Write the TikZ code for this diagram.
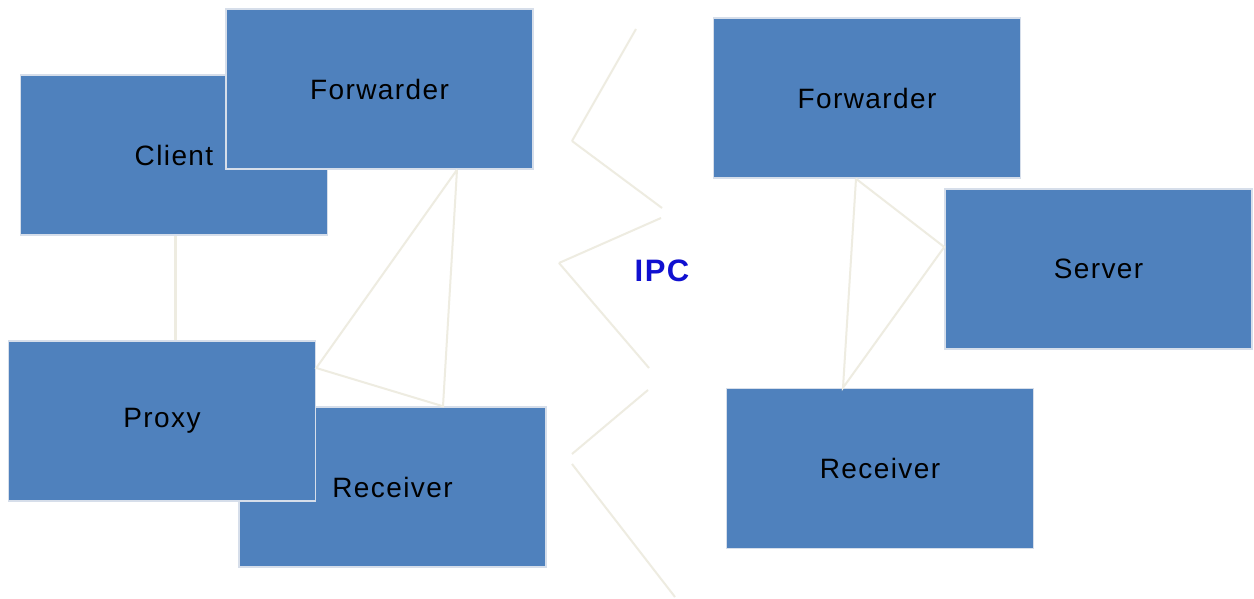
\documentclass[tikz,border=0pt]{standalone}
\usepackage{fontspec}
\setmainfont{Liberation Sans}[LetterSpace=5]
\usetikzlibrary{positioning}
\definecolor{boxblue}{RGB}{79,129,189}
\definecolor{boxedge}{RGB}{214,222,234}
\definecolor{wire}{RGB}{238,236,225}
\definecolor{ipcblue}{RGB}{16,16,208}

\begin{document}
\begin{tikzpicture}[x=1pt,y=-1pt,
    comp/.style={rectangle,fill=boxblue,draw=boxedge,line width=1.5pt,
      minimum width=307pt,minimum height=160pt,inner sep=0pt,
      font=\fontsize{28}{32}\selectfont},
    wire/.style={draw=wire,line width=2pt}]
        \useasboundingbox[fill=white] (0,0) rectangle (1254,599);
        % left side: client process
        \begin{scope}
          \node[comp] (client) at (174,155) {Client};
          \node[comp] (fwdL) at (379.5,89) {Forwarder};
          \node[comp] (recvL) at (392.5,487) {Receiver};
          \node[comp] (proxy) at (162,421) {Proxy};
          \draw[wire,line width=3pt] ([xshift=1pt]client.south) -- ([xshift=1pt]client.south |- proxy.north);
          \draw[wire] ([xshift=77.5pt]fwdL.south) -- ([yshift=53pt]proxy.east)
            -- ([xshift=50.5pt]recvL.north) -- ([xshift=77.5pt]fwdL.south);
        \end{scope}
        % the process boundary, a broken zigzag
        \foreach \xa/\ya/\xb/\yb in {636/29/572/141, 572/141/662/208, 661/218/559/263,
            559/263/649/368, 648/390/572/454, 572/464/675/597} {
          \draw[wire] (\xa,\ya) -- (\xb,\yb);
        }
        \node[font=\fontsize{31}{36}\selectfont\bfseries,text=ipcblue] (ipc) at (662,271) {IPC};
        % right side: server process
        \begin{scope}
          \node[comp] (fwdR) at (867,98) {Forwarder};
          \node[comp] (server) at (1098.5,269) {Server};
          \node[comp] (recvR) at (880,468.5) {Receiver};
          \draw[wire] ([xshift=-11pt]fwdR.south) -- ([yshift=22pt]server.west)
            -- ([xshift=-37pt]recvR.north) -- ([xshift=-11pt]fwdR.south);
        \end{scope}
      \end{tikzpicture}
\end{document}
